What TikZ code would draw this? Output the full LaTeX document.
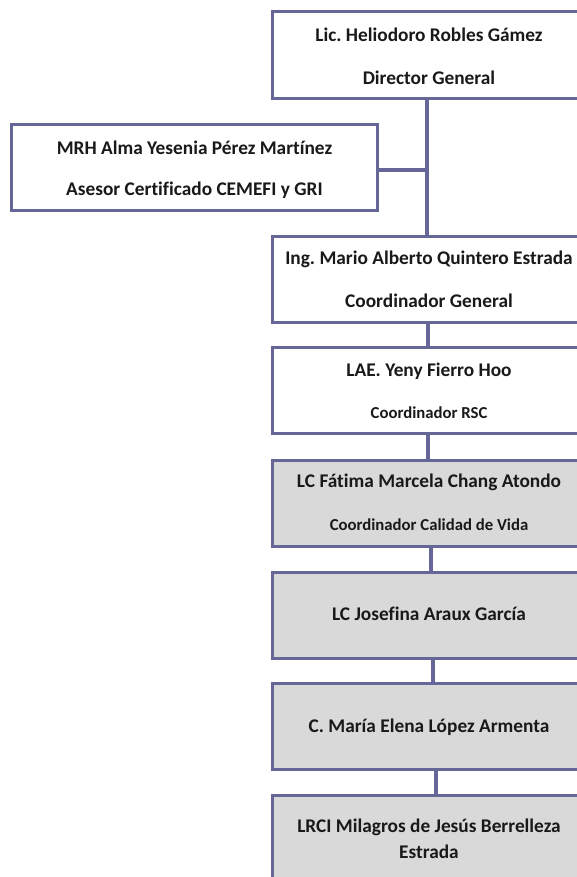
\documentclass[tikz,border=0pt]{standalone}
\usepackage{fontspec}
\setmainfont[Ligatures=NoCommon]{Carlito}
\frenchspacing
\definecolor{edge}{RGB}{102,102,152}
\definecolor{boxgray}{RGB}{217,217,217}
\begin{document}
\begin{tikzpicture}[x=1bp,y=-1bp,
  box/.style={draw=edge,line width=3bp,rectangle,minimum height=86bp,inner sep=0pt},
  wbox/.style={box,fill=white,minimum width=314bp},
  gbox/.style={box,fill=boxgray,minimum width=314bp},
  big/.style={font=\bfseries\fontsize{19.4}{23}\selectfont,inner sep=0pt,text=black!90},
  small/.style={font=\bfseries\fontsize{16.8}{20}\selectfont,inner sep=0pt,text=black!90},
  link/.style={draw=edge,line width=3.5bp}]
\useasboundingbox (0,0) rectangle (577,877);
\clip (0,0) rectangle (577,877);
\fill[white] (0,0) rectangle (577,877);
% boxes
\node[wbox] (b1) at (429,55) {};
\node[box,fill=white,minimum width=365bp] (b2) at (194.5,167) {};
\node[wbox] (b3) at (429,279) {};
\node[wbox] (b4) at (429,390.5) {};
\node[gbox] (b5) at (429,503) {};
\node[gbox] (b6) at (429,615) {};
\node[gbox] (b7) at (429,726) {};
\node[gbox] (b8) at (429,838) {};
% texts
\node[big] (t1a) at (429,35) {Lic. Heliodoro Robles Gámez};
\node[big] (t1b) at (429,78) {Director General};
\node[big] (t2a) at (194.5,148) {MRH Alma Yesenia Pérez Martínez};
\node[big] (t2b) at (194.5,190) {Asesor Certificado CEMEFI y GRI};
\node[big] (t3a) at (429,259) {Ing. Mario Alberto Quintero Estrada};
\node[big] (t3b) at (429,301) {Coordinador General};
\node[big] (t4a) at (429,371) {LAE. Yeny Fierro Hoo};
\node[small] (t4b) at (429,413) {Coordinador RSC};
\node[big] (t5a) at (429,482) {LC Fátima Marcela Chang Atondo};
\node[small] (t5b) at (429,525) {Coordinador Calidad de Vida};
\node[big] (t6) at (429,614) {LC Josefina Araux García};
\node[big] (t7) at (429,727) {C. María Elena López Armenta};
\node[big] (t8a) at (429,827) {LRCI Milagros de Jesús Berrelleza};
\node[big] (t8b) at (429,852) {Estrada};
% connectors
\coordinate (j) at (427,170);
\draw[link] ([xshift=-2bp]b1.south) -- ([xshift=-2bp]b3.north);
\draw[link] (b2.east |- j) -- (j);
\draw[link] ([xshift=-1bp]b3.south) -- ([xshift=-1bp]b4.north);
\draw[link] ([xshift=-1bp]b4.south) -- ([xshift=-1bp]b5.north);
\draw[link] ([xshift=2bp]b5.south) -- ([xshift=2bp]b6.north);
\draw[link] ([xshift=4bp]b6.south) -- ([xshift=4bp]b7.north);
\draw[link] ([xshift=7bp]b7.south) -- ([xshift=7bp]b8.north);
\end{tikzpicture}
\end{document}
